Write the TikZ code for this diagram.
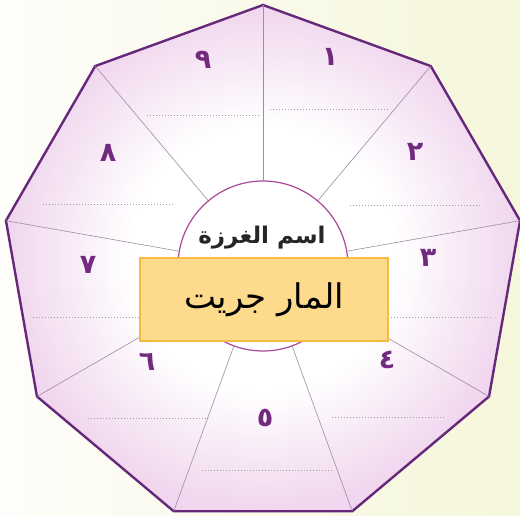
\documentclass[tikz,border=0pt]{standalone}
\usepackage{fontspec}
\usepackage{xcolor}
\newfontfamily\arabicfont[Script=Arabic]{DejaVu Sans}
\TeXXeTstate=1
\usetikzlibrary{calc}
\definecolor{nonaline}{HTML}{66287A}
\definecolor{nonapink}{HTML}{F0D6EE}
\definecolor{spokegray}{HTML}{9C8CA6}
\definecolor{hubline}{HTML}{A9489A}
\definecolor{digitpurple}{HTML}{722A80}
\definecolor{boxfill}{HTML}{FDDA8C}
\definecolor{boxline}{HTML}{F8BB42}
\definecolor{bgleft}{HTML}{FEFDFA}
\definecolor{bgright}{HTML}{F5F6DA}
\pgfdeclareradialshading{nonashade}{\pgfpoint{0bp}{0bp}}{color(0bp)=(white); color(13bp)=(white); color(25bp)=(nonapink); color(50bp)=(nonapink)}

\begin{document}
\begin{tikzpicture}[x=1pt, y=1pt,
		nonagon/.style={draw=nonaline, line width=2.4pt, line join=miter, shading=nonashade},
		spoke/.style={draw=spokegray, line width=0.6pt},
		hubcircle/.style={circle, draw=hubline, line width=1.2pt, fill=white, minimum size=170pt, inner sep=0pt},
		digit/.style={text=digitpurple, font=\arabicfont\bfseries\fontsize{27}{28}\selectfont},
		writeline/.style={draw=gray!75, line width=0.9pt, dash pattern=on 0.9pt off 2.1pt},
		namebox/.style={draw=boxline, line width=1.5pt, fill=boxfill, minimum width=248pt, minimum height=83pt, inner sep=0pt,
			font=\arabicfont\fontsize{34}{36}\selectfont},
		titletext/.style={font=\arabicfont\bfseries\fontsize{23}{25}\selectfont, text=black!85}]
	\useasboundingbox (0,0) rectangle (520,515);
	\shade[left color=bgleft, right color=bgright] (0,0) rectangle (520,515);
	\coordinate (c) at (263,249);
	\foreach \i in {0,...,8}
		\coordinate (v\i) at ($(c)+(90-40*\i:261)$);
	\path[nonagon] (v0) \foreach \i in {1,...,8}{-- (v\i)} -- cycle;
	\node[hubcircle] (hub) at (c) {};
	\foreach \i in {0,...,8}
		\draw[spoke] (hub) -- (v\i);
	% lines to write on
	\foreach \xa/\xb/\y in {270/390/406, 350/480/310, 388/493/198, 332/445/98, 202/332/45,
			88/208/97, 33/140/198, 43/173/311, 147/260/400}
		\draw[writeline] (\xa,\y) -- (\xb,\y);
	\foreach \k/\d/\x/\y in {1/١/330/458, 2/٢/415/363, 3/٣/428/257, 4/٤/387/155, 5/٥/265/97,
			6/٦/147/153, 7/٧/88/250, 8/٨/108/362, 9/٩/203/455}
		\node[digit] (num\k) at (\x,\y) {\d};
	\node[titletext] (title) at (262,277) {\beginR اسم الغرزة\endR};
	\node[namebox] (stitch) at (264,215.5) {\beginR المار جريت\endR};
\end{tikzpicture}
\end{document}
